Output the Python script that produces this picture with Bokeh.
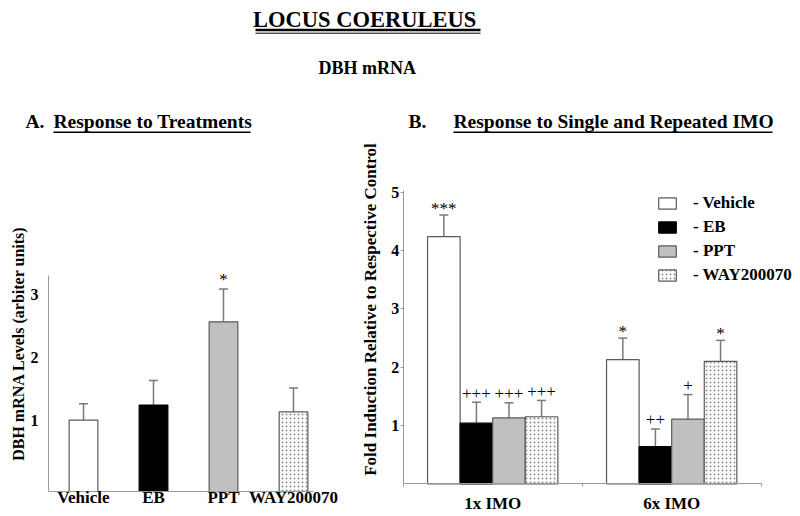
import numpy as np
from bokeh.plotting import figure
from bokeh.models import (ColumnDataSource, Range1d, FixedTicker, Whisker, TeeHead,
                          Legend, LegendItem, LinearAxis)
from bokeh.embed import file_html
from bokeh.resources import INLINE
from bokeh.core.properties import value

# ---------------- data ----------------
treatments = ["Vehicle", "EB", "PPT", "WAY200070"]

# Panel A: DBH mRNA levels (arbiter units)
a_means = [1.00, 1.24, 2.56, 1.13]
a_sem = [0.26, 0.39, 0.52, 0.38]
a_sig = ["", "", "*", ""]
a_ticks = [1, 2, 3]

# Panel B: fold induction relative to respective control
imo_groups = ["1x IMO", "6x IMO"]
b_vehicle = [4.24, 2.13]
b_eb = [1.04, 0.64]
b_ppt = [1.13, 1.11]
b_way = [1.15, 2.10]
b_vehicle_sem = [0.37, 0.37]
b_eb_sem = [0.36, 0.30]
b_ppt_sem = [0.26, 0.42]
b_way_sem = [0.28, 0.36]
b_vehicle_sig = ["***", "*"]
b_eb_sig = ["+++", "++"]
b_ppt_sig = ["+++", "+"]
b_way_sig = ["+++", "*"]
b_ticks = [1, 2, 3, 4, 5]

# ---------------- styles ----------------
FONT = "Liberation Serif"
EDGE = "#5a5a5a"
AXIS = "#9a9a9a"
ERR = "#7a7a7a"
styles = {
    "Vehicle": dict(fill_color="white", line_color=EDGE),
    "EB": dict(fill_color="black", line_color="black"),
    "PPT": dict(fill_color="#c0c0c0", line_color=EDGE),
    "WAY200070": dict(fill_color="white", line_color=EDGE, hatch_pattern="dot",
                      hatch_scale=4, hatch_weight=1.1, hatch_color="#8c8c8c"),
}

W, H = 800, 516


def px_range_x(origin_px, ppu, origin_val=0.0):
    return Range1d(origin_val - origin_px / ppu, origin_val + (W - origin_px) / ppu)


def px_range_y(origin_px, ppu, origin_val=0.0):
    # origin_px measured from the top of the canvas
    return Range1d(origin_val - (H - origin_px) / ppu, origin_val + origin_px / ppu)


p = figure(width=W, height=H, x_range=Range1d(0, W), y_range=Range1d(H, 0),
           output_backend="svg", toolbar_location=None, min_border=0,
           x_axis_location=None, y_axis_location=None, outline_line_color=None)
p.grid.visible = False
p.extra_x_ranges = {"ax": px_range_x(48, 70.0), "bx": px_range_x(402.7, 179.0)}
p.extra_y_ranges = {"ay": px_range_y(419.6, 63.0, 1.0), "by": px_range_y(483.3, 58.3)}


def txt(x, y, s, size, style="bold", align="left", angle=0.0):
    p.text(x=[x], y=[y], text=[s], text_font=value(FONT), text_font_style=style,
           text_font_size=size, text_align=align, text_baseline="middle",
           text_color="black", angle=angle)


# ---------------- headings ----------------
txt(367, 19, "LOCUS  COERULEUS", "22.5px", align="center")
p.segment(x0=[255], y0=[29.5], x1=[480], y1=[29.5], line_width=2.5, line_color="black")
p.segment(x0=[255], y0=[32.7], x1=[480], y1=[32.7], line_width=1, line_color="black")
txt(366.7, 67.2, "DBH mRNA", "18px", align="center")
txt(25, 121, "A.", "19.5px")
txt(53, 121, "Response to Treatments", "19.5px")
txt(408, 121, "B.", "19.5px")
txt(453, 121, "Response to Single and Repeated IMO", "19.5px")
p.segment(x0=[53, 453], y0=[131.7, 131.7], x1=[250, 772], y1=[131.7, 131.7],
          line_width=1.5, line_color="black")


def style_axis(ax, size="16px"):
    ax.axis_line_color = AXIS
    ax.axis_line_width = 1
    ax.major_tick_line_color = AXIS
    ax.minor_tick_line_color = AXIS
    ax.major_label_text_font = FONT
    ax.major_label_text_font_style = "bold"
    ax.major_label_text_font_size = size
    ax.major_label_text_color = "black"


# ---------------- panel A ----------------
a_y0 = -0.133
a_x = np.arange(len(treatments)) + 0.5
a_src = ColumnDataSource(dict(x=a_x, top=a_means,
                              upper=np.array(a_means) + np.array(a_sem), sig=a_sig))
for i, t in enumerate(treatments):
    s = ColumnDataSource(dict(x=[a_x[i]], top=[a_means[i]]))
    p.vbar(x="x", top="top", bottom=a_y0, width=0.41, source=s, line_width=1.2,
           x_range_name="ax", y_range_name="ay", **styles[t])
p.add_layout(Whisker(source=a_src, base="x", lower="top", upper="upper", dimension="height",
                     line_color=ERR, line_width=1.5, lower_head=None,
                     x_range_name="ax", y_range_name="ay",
                     upper_head=TeeHead(size=9, line_color=ERR, line_width=1.5)))
p.text(x="x", y="upper", text="sig", source=a_src, text_font=value(FONT),
       text_font_size="17px", text_align="center", text_baseline="middle",
       text_color="black", y_offset=-10, x_range_name="ax", y_range_name="ay")

ax_a = LinearAxis(x_range_name="ax", y_range_name="ay", fixed_location=a_y0,
                  bounds=(0, 3.786), ticker=FixedTicker(ticks=list(a_x)),
                  major_label_overrides={float(x): t for x, t in zip(a_x, treatments)})
style_axis(ax_a, "17px")
ax_a.major_tick_out = 0
ax_a.major_tick_in = 0
ax_a.minor_tick_out = 0
ax_a.minor_tick_in = 0
ax_a.major_label_standoff = -3
p.add_layout(ax_a, "below")

ay_a = LinearAxis(x_range_name="ax", y_range_name="ay", fixed_location=0,
                  bounds=(a_y0, 3.3), ticker=FixedTicker(ticks=a_ticks))
style_axis(ay_a)
ay_a.major_tick_out = 0
ay_a.major_tick_in = 0
ay_a.minor_tick_out = 0
ay_a.minor_tick_in = 0
ay_a.major_label_standoff = 10
p.add_layout(ay_a, "left")
txt(18, 343, "DBH mRNA Levels (arbiter units)", "16px", align="center", angle=np.pi / 2)

# ---------------- panel B ----------------
b_vals = [b_vehicle, b_eb, b_ppt, b_way]
b_sems = [b_vehicle_sem, b_eb_sem, b_ppt_sem, b_way_sem]
b_sigs = [b_vehicle_sig, b_eb_sig, b_ppt_sig, b_way_sig]
bw = 0.182
g_centers = np.arange(len(imo_groups)) + 0.5
items = []
for i, t in enumerate(treatments):
    xs = g_centers + (i - 1.5) * bw
    vals = np.array(b_vals[i])
    src = ColumnDataSource(dict(x=xs, top=vals, upper=vals + np.array(b_sems[i]),
                                sig=b_sigs[i],
                                off=[-7 if "*" in s else -9 for s in b_sigs[i]]))
    r = p.vbar(x="x", top="top", bottom=0, width=bw, source=src, line_width=1.2,
               x_range_name="bx", y_range_name="by", **styles[t])
    items.append(LegendItem(label="- " + t, renderers=[r]))
    p.add_layout(Whisker(source=src, base="x", lower="top", upper="upper", dimension="height",
                         line_color=ERR, line_width=1.5, lower_head=None,
                         x_range_name="bx", y_range_name="by",
                         upper_head=TeeHead(size=9, line_color=ERR, line_width=1.5)))
    p.text(x="x", y="upper", text="sig", source=src, text_font=value(FONT),
           text_font_size="17px", text_align="center", text_baseline="middle",
           text_color="black", y_offset="off", x_range_name="bx", y_range_name="by")

legend = Legend(items=items, location=(656, 231), border_line_color=None,
                background_fill_alpha=0, padding=0, margin=0, spacing=4,
                glyph_width=22, glyph_height=14, label_height=14, label_standoff=15,
                label_text_font=FONT, label_text_font_style="bold",
                label_text_font_size="17px", label_text_color="black")
p.add_layout(legend)

ax_b = LinearAxis(x_range_name="bx", y_range_name="by", fixed_location=0, bounds=(0, 2),
                  ticker=FixedTicker(ticks=list(g_centers), minor_ticks=[0, 1, 2]),
                  major_label_overrides={float(x): g for x, g in zip(g_centers, imo_groups)})
style_axis(ax_b, "17px")
ax_b.major_tick_out = 0
ax_b.major_tick_in = 0
ax_b.minor_tick_out = 3
ax_b.minor_tick_in = 0
ax_b.major_label_standoff = 7
p.add_layout(ax_b, "below")

ay_b = LinearAxis(x_range_name="bx", y_range_name="by", fixed_location=0, bounds=(0, 5.03),
                  ticker=FixedTicker(ticks=b_ticks))
style_axis(ay_b)
ay_b.major_tick_out = 3
ay_b.major_tick_in = 0
ay_b.minor_tick_out = 0
ay_b.minor_tick_in = 0
ay_b.major_label_standoff = 1
p.add_layout(ay_b, "left")
txt(370, 309, "Fold Induction Relative to Respective Control", "17px", align="center",
    angle=np.pi / 2)

open("out.html", "w").write(file_html(p, INLINE))
